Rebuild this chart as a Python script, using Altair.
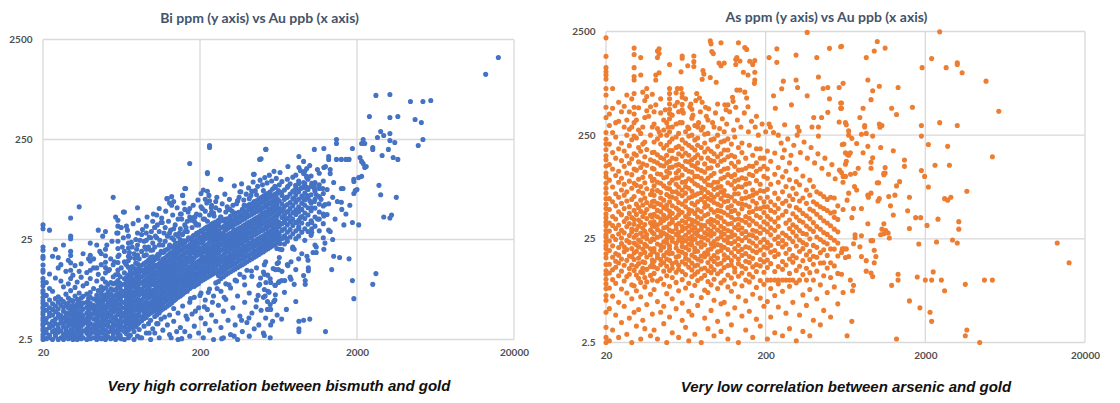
import altair as alt
import pandas as pd

AU_TICKS = [20, 200, 2000, 20000]
PPM_TICKS = [2.5, 25, 250, 2500]

TITLE_BI = "Bi ppm (y axis) vs Au ppb (x axis)"
TITLE_AS = "As ppm (y axis) vs Au ppb (x axis)"
CAPTION_BI = "Very high correlation between bismuth and gold"
CAPTION_AS = "Very low correlation between arsenic and gold"

# ---------------- Bi ppm vs Au ppb : (Au ppb, [Bi ppm ...]) ----------------
BI_LOW = [
    (20, [2.5, 2.65, 2.8, 3.05, 3.2, 3.45, 3.6, 3.9, 4.1, 4.45, 4.7, 5.1, 5.3, 5.75, 6.1, 6.6, 7.3, 7.7, 8.6, 9.4, 10.2, 11.8, 12.4, 13.9, 16.2, 17, 19.5, 21, 32, 35]),
    (21, [2.55, 2.9, 3.15, 3.7, 4.05, 4.9, 5.6, 6.9, 9.3]),
    (22, [2.6, 2.75, 3.3, 3.55, 4.3, 4.6, 5.2, 6.2, 8.1, 11.3, 31]),
    (23, [2.5, 3.0, 3.4, 3.8, 4.4, 5.0, 5.7, 7.6, 17]),
    (24, [2.7, 2.85, 3.1, 3.6, 4.0, 4.75, 5.4, 6.4, 10.3, 20]),
    (25, [2.5, 2.95, 3.25, 3.5, 4.2, 4.5, 5.05, 5.9, 6.7, 13, 16.5]),
    (26, [2.6, 3.05, 3.7, 3.95, 4.35, 5.5, 6.3, 9.6, 14]),
    (27, [2.5, 2.8, 3.35, 3.6, 4.1, 4.8, 5.25, 6.0, 8.4, 22]),
    (28, [2.7, 3.0, 3.2, 3.85, 4.25, 4.6, 5.6, 7.1, 12]),
    (29, [2.55, 2.9, 3.45, 3.75, 4.0, 4.55, 5.15, 5.8, 6.5, 9.0, 15.5]),
    (30, [2.6, 2.75, 3.1, 3.6, 3.9, 4.4, 4.95, 5.35, 6.2, 7.7, 10.2, 12.3, 14.6, 17.3, 19, 25.5, 27, 41]),
    (31, [2.5, 3.0, 3.3, 3.7, 4.15, 4.7, 5.5, 6.1, 11]),
    (32, [2.65, 2.85, 3.5, 3.8, 4.3, 4.9, 5.2, 6.8, 8.3, 13.7]),
    (33, [2.5, 3.15, 3.4, 4.0, 4.55, 5.0, 5.65, 6.3, 9.4]),
    (34, [2.7, 2.95, 3.25, 3.65, 4.2, 4.45, 5.3, 6.0, 7.3, 12, 53]),
    (35, [2.55, 2.8, 3.4, 3.85, 4.1, 4.75, 5.5, 6.5, 10.5, 14.3]),
    (36, [2.6, 3.05, 3.55, 3.9, 4.35, 5.05, 5.8, 6.75, 8.6, 18]),
    (38, [2.5, 2.9, 3.2, 3.7, 4.05, 4.6, 5.25, 5.9, 7.1, 9.1, 11.7]),
    (39, [2.75, 3.0, 3.45, 3.95, 4.4, 4.95, 5.6, 6.4, 16]),
    (40, [2.55, 2.85, 3.15, 3.6, 4.25, 4.55, 5.15, 5.75, 6.6, 7.4, 10.2, 12.3, 15.2, 17.4, 23]),
    (42, [2.6, 2.95, 3.3, 3.5, 4.0, 4.5, 5.0, 5.5, 6.35, 8.1, 13]),
    (44, [2.5, 2.8, 3.2, 3.75, 4.15, 4.8, 5.4, 6.05, 6.9, 9.6, 22]),
    (45, [2.7, 3.05, 3.45, 3.9, 4.4, 4.65, 5.25, 5.85, 6.55, 7.7, 11.2, 31]),
    (47, [2.55, 2.9, 3.35, 3.6, 4.3, 4.9, 5.6, 6.2, 7.2, 8.4, 14, 18]),
    (48, [2.6, 3.0, 3.2, 3.8, 4.05, 4.55, 5.1, 5.95, 6.8, 7.9, 10.1]),
    (50, [2.5, 2.75, 3.1, 3.5, 3.95, 4.45, 5.0, 5.45, 6.3, 7.0, 8.2, 9.4, 11.6, 13.1, 14.8, 17.2, 20, 30]),
    (52, [2.65, 2.95, 3.4, 3.7, 4.2, 4.6, 5.3, 5.9, 6.7, 7.5, 8.9, 12.2]),
    (54, [2.55, 3.05, 3.3, 3.85, 4.35, 4.9, 5.55, 6.25, 7.1, 8.05, 9.3, 16]),
    (56, [2.7, 2.9, 3.25, 3.6, 4.1, 4.7, 5.15, 5.8, 6.6, 7.8, 9.0, 10.6, 14, 66]),
    (58, [2.5, 3.0, 3.5, 3.95, 4.25, 4.85, 5.45, 6.1, 7.0, 7.9, 9.2, 11.1, 42]),
    (60, [2.6, 2.85, 3.15, 3.4, 3.8, 4.5, 5.05, 5.7, 6.45, 7.3, 8.5, 9.7, 11.2, 12.4, 14.7, 16.9, 20.3, 24, 29, 34, 39]),
    (62, [2.75, 3.1, 3.6, 3.9, 4.4, 4.95, 5.6, 6.3, 6.95, 8.1, 9.1, 10.6]),
    (63, [2.55, 3.3, 3.7, 4.2, 4.65, 5.25, 6.0, 6.75, 7.6, 8.8, 13, 33]),
]

BI_MID = [
    (66, [2.5, 3.0, 3.35, 3.8, 4.3, 4.6, 5.2, 5.85, 6.9, 7.6, 8.9, 10.1, 11.6, 15, 19, 47]),
    (68, [2.85, 3.2, 3.55, 4.05, 4.8, 5.4, 6.3, 7.1, 8.2, 9.3, 10.4, 14, 34]),
    (70, [2.6, 3.1, 3.7, 4.2, 4.5, 5.1, 5.75, 6.6, 7.4, 8.6, 9.9, 11.1, 13.2, 15.4, 17, 20.5, 23, 27]),
    (72, [2.75, 3.4, 3.9, 4.35, 4.95, 5.5, 6.2, 7.0, 7.8, 9.1, 10.5, 12.1, 16.5]),
    (74, [3.25, 3.6, 4.1, 4.6, 5.3, 5.95, 6.5, 7.5, 8.4, 9.6, 11.2, 13.4, 21]),
    (76, [2.5, 3.0, 3.5, 3.95, 4.45, 5.0, 5.7, 6.8, 7.3, 8.8, 10, 11.5, 12.9, 18]),
    (78, [3.35, 3.8, 4.25, 4.9, 5.55, 6.1, 7.15, 8.1, 9.3, 10.3, 11.9, 14.5, 25]),
    (80, [2.7, 3.55, 3.9, 4.4, 5.05, 5.8, 6.4, 7.6, 8.5, 9.8, 11, 12.7, 14.3, 17.5, 22, 29, 52]),
    (82, [3.15, 3.7, 4.3, 4.75, 5.35, 6.0, 7.0, 7.9, 8.95, 10.2, 11.7, 13.2, 16]),
    (85, [2.6, 3.85, 4.2, 4.95, 5.6, 6.25, 7.2, 8.0, 9.3, 10.6, 12.2, 13.8, 19, 28]),
    (88, [3.4, 4.05, 4.55, 5.2, 5.7, 6.6, 7.4, 8.6, 9.6, 11.1, 12.4, 14.4, 17.2, 24]),
    (91, [2.9, 4.15, 4.8, 5.35, 6.0, 6.85, 7.8, 8.75, 10.1, 11.5, 13.1, 14.9, 17.6, 20, 24.5, 29, 34]),
    (94, [3.6, 4.45, 5.05, 5.55, 6.5, 7.25, 8.1, 9.4, 10.5, 12.1, 13.6, 15.6, 21]),
    (97, [2.5, 3.9, 4.6, 5.25, 5.85, 6.8, 7.55, 8.7, 9.9, 11.1, 12.8, 14.4, 16.6, 19.5, 26]),
    (100, [3.2, 4.75, 5.45, 6.05, 7.0, 7.75, 9.0, 10, 11.6, 13, 15, 16.8, 19.6, 23, 38]),
    (103, [2.9, 4.25, 4.85, 5.5, 6.15, 6.85, 7.9, 8.8, 10.2, 11.4, 13.2, 15.8, 21, 33]),
    (106, [3.6, 4.4, 5.0, 5.65, 6.45, 7.15, 8.3, 9.2, 10.7, 11.9, 13.8, 17, 26, 44]),
    (110, [2.6, 4.6, 5.25, 5.85, 6.75, 7.6, 8.65, 9.75, 11.2, 12.5, 14.4, 17.5, 22, 30, 51]),
    (113, [4.0, 4.9, 5.4, 6.2, 6.9, 7.9, 8.8, 10.1, 11.6, 13.1, 14.9, 19, 37]),
    (116, [3.1, 5.05, 5.7, 6.45, 7.35, 8.25, 9.5, 10.6, 12.3, 13.8, 15.9, 18.5, 22]),
    (120, [5.2, 5.95, 6.65, 7.65, 8.5, 9.9, 11, 12.7, 14.2, 16.4, 19.5, 24, 33]),
    (124, [3.5, 5.4, 6.15, 6.9, 7.85, 8.95, 10.1, 11.6, 13, 15, 17.1, 20, 27, 64]),
    (128, [2.8, 4.4, 5.6, 6.35, 7.25, 8.2, 9.35, 10.5, 12.1, 13.6, 15.7, 17.9, 22, 29, 58]),
    (132, [5.8, 6.65, 7.45, 8.6, 9.65, 11.1, 12.4, 14.3, 16.1, 18.5, 21, 26, 55, 67]),
    (136, [3.8, 5.1, 6.1, 6.95, 7.8, 8.9, 10.2, 11.4, 13.2, 14.8, 17.1, 19.2, 25, 32, 60]),
    (140, [6.3, 7.15, 8.25, 9.3, 10.7, 12, 13.8, 15.5, 17.8, 20.1, 23, 28]),
    (145, [2.5, 4.6, 6.6, 7.55, 8.45, 9.75, 10.9, 12.6, 14.1, 16.3, 18.3, 21, 27, 40]),
    (150, [3.3, 6.8, 7.75, 8.95, 10, 11.6, 13, 15, 16.9, 19.4, 22, 25, 32, 45]),
    (155, [5.4, 7.1, 8.15, 9.15, 10.6, 11.8, 13.7, 15.3, 17.6, 19.8, 22.8, 28, 69]),
    (160, [3.0, 7.4, 8.35, 9.65, 10.8, 12.5, 14, 16.1, 18.1, 20.9, 23.4, 30, 35, 50, 81]),
]

BI_HIGH = [
    (166, [4.0, 7.6, 8.9, 9.8, 11.4, 12.6, 14.8, 16.4, 19.1, 21.3, 24.6, 30, 38]),
    (172, [2.7, 5.9, 8.1, 9.2, 10.2, 11.9, 13.2, 15.2, 17.0, 19.8, 22.1, 25.5, 42, 51, 144]),
    (178, [4.5, 8.4, 9.3, 10.9, 12.1, 14.1, 15.6, 18.2, 20.3, 23.5, 26.2, 33]),
    (184, [3.4, 6.6, 8.5, 9.9, 11.0, 12.8, 14.2, 16.5, 18.4, 21.3, 23.7, 27.5, 38, 42]),
    (190, [8.8, 10.3, 11.4, 13.3, 14.7, 17.2, 19.1, 22.3, 24.8, 28.8, 35, 45]),
    (196, [2.9, 5.2, 9.1, 10.6, 11.8, 13.7, 15.2, 17.8, 19.7, 22.9, 25.5, 29.5, 35]),
    (203, [4.1, 7.3, 9.6, 10.9, 12.2, 14.2, 15.8, 18.3, 20.4, 23.7, 26.4, 30.5, 53, 72]),
    (210, [2.6, 9.9, 11.2, 12.5, 14.5, 16.1, 18.7, 20.8, 24.2, 27.0, 31.4, 40, 78]),
    (216, [3.6, 6.2, 10.2, 11.6, 13.0, 15.1, 16.8, 19.5, 21.8, 25.3, 28.1, 32.5, 48, 63]),
    (223, [5.0, 10.5, 11.9, 13.5, 15.5, 17.2, 20.0, 22.3, 25.9, 28.7, 33.4, 38, 76, 114, 117]),
    (230, [3.1, 8.0, 10.8, 12.3, 14.1, 15.7, 18.2, 20.2, 23.5, 26.1, 30.4, 34.1, 44, 61, 208, 218]),
    (237, [4.4, 11.1, 12.6, 14.4, 16.1, 18.6, 21.2, 24.1, 26.8, 31.1, 35.6, 47, 55]),
    (244, [2.5, 6.8, 11.4, 12.9, 14.8, 16.5, 19.1, 21.7, 24.7, 27.5, 31.9, 36.5, 46]),
    (252, [3.8, 9.2, 11.7, 13.3, 15.2, 17.0, 19.6, 22.2, 25.3, 28.2, 32.8, 37.4, 52, 60]),
    (262, [5.5, 9.5, 10.9, 12.2, 14.1, 15.8, 18.3, 20.8, 23.7, 26.4, 30.6, 34.5, 39]),
    (272, [3.3, 7.6, 10.2, 11.6, 13.0, 15.0, 16.9, 19.5, 22.2, 25.2, 28.1, 32.6, 42, 100]),
    (282, [2.6, 4.8, 10.6, 12.0, 13.5, 15.6, 17.4, 20.1, 22.9, 25.9, 29.0, 33.6, 38.4]),
    (292, [6.3, 9.0, 11.1, 12.6, 14.4, 16.1, 18.6, 21.2, 24.1, 26.9, 31.1, 35.3, 40, 47]),
    (302, [3.9, 11.5, 13.1, 14.9, 16.7, 19.3, 21.9, 24.9, 27.8, 32.3, 36.6, 50]),
    (313, [2.8, 8.2, 11.9, 13.5, 15.4, 17.3, 20.0, 22.7, 25.8, 28.8, 33.4, 37.9, 43]),
    (324, [5.2, 12.3, 14.0, 15.9, 17.8, 20.6, 23.4, 26.6, 29.7, 34.5, 39.1, 55]),
    (335, [3.5, 9.8, 12.7, 14.4, 16.4, 18.4, 21.2, 24.1, 27.4, 30.6, 35.5, 40.3, 46]),
    (347, [2.5, 6.8, 13.1, 14.9, 16.9, 18.9, 21.9, 24.9, 28.3, 31.6, 36.6, 41.6, 61]),
    (359, [4.3, 11.2, 13.6, 15.4, 17.5, 19.6, 22.7, 25.8, 29.3, 32.7, 37.9, 43.0, 75]),
    (372, [3.0, 14.0, 15.9, 18.0, 20.2, 23.4, 26.6, 30.2, 33.7, 39.1, 44.3, 50]),
    (385, [5.9, 8.8, 14.5, 16.5, 18.7, 20.9, 24.2, 27.5, 31.2, 34.8, 40.4, 45.9, 55]),
    (398, [3.7, 12.3, 15.0, 17.1, 19.4, 21.7, 25.1, 28.5, 32.4, 36.1, 41.9, 47.6]),
    (412, [2.7, 7.3, 15.5, 17.6, 20.0, 22.4, 25.9, 29.4, 33.4, 37.3, 43.2, 49.1, 56, 64]),
    (428, [4.6, 10.7, 16.0, 18.2, 20.7, 23.1, 26.8, 30.4, 34.5, 38.5, 44.6, 50.7, 57, 76]),
    (443, [3.2, 16.6, 18.9, 21.5, 24.0, 27.7, 31.5, 35.7, 39.9, 46.2, 52.5, 60, 112]),
    (458, [6.2, 13.0, 17.1, 19.4, 22.1, 24.7, 28.6, 32.5, 36.9, 41.2, 47.7, 54.2, 61, 70]),
    (474, [3.5, 8.7, 17.7, 20.1, 22.8, 25.5, 29.5, 33.5, 38.1, 42.5, 49.2, 55.9, 63.5]),
    (490, [4.9, 18.3, 20.8, 23.6, 26.4, 30.6, 34.7, 39.4, 44.0, 50.9, 57.9, 65.6, 160]),
    (507, [2.9, 6.6, 11.8, 18.9, 21.5, 24.4, 27.2, 31.5, 35.8, 40.7, 45.4, 52.6, 59.8, 67.9, 77]),
    (524, [4.1, 15.0, 19.6, 22.3, 25.3, 28.2, 32.6, 37.1, 42.2, 47.1, 54.5, 61.9, 70, 200]),
    (542, [7.6, 20.2, 23.0, 26.1, 29.2, 33.8, 38.4, 43.6, 48.7, 56.4, 64.1, 72.6]),
    (560, [2.6, 5.6, 10.1, 20.9, 23.8, 27.0, 30.2, 34.9, 39.7, 45.1, 50.3, 58.3, 66.2, 75]),
    (580, [3.8, 21.6, 24.5, 27.9, 31.2, 36.1, 41.0, 46.6, 52.1, 60.3, 68.4, 80]),
    (600, [6.2, 8.7, 22.3, 25.4, 28.8, 32.2, 37.3, 42.3, 48.1, 53.8, 62.2, 70.6, 85]),
    (620, [4.4, 14.4, 23.1, 26.2, 29.8, 33.3, 38.5, 43.8, 49.7, 55.6, 64.3, 72.9]),
    (640, [9.5, 16.5, 24.5, 28.0, 33.5, 37.0, 45.5, 50.5, 61, 74, 88]),
    (665, [12.0, 19.8, 25.6, 30.8, 36.0, 41.5, 48.0, 57, 69, 95]),
    (690, [7.4, 22.5, 27.2, 32.0, 39.5, 44.0, 53.5, 63, 78]),
    (720, [14.0, 24.0, 29.5, 35.0, 40.5, 47.5, 56, 66, 83, 100]),
    (750, [10.5, 26.5, 31.5, 37.5, 43.0, 51.0, 58.5, 71, 90]),
    (780, [21.0, 28.5, 34.5, 40.0, 46.5, 54.5, 64, 76, 105]),
    (815, [12.5, 25.5, 30.5, 37.0, 44.5, 49.5, 59, 70, 86, 110]),
    (850, [27.0, 33.5, 39.0, 47.0, 53.0, 63, 75, 96]),
    (890, [18.0, 29.5, 36.5, 42.5, 50.0, 57.5, 68, 82]),
    (930, [24.5, 32.0, 40.5, 46.0, 55.0, 62, 73, 91, 120]),
    (975, [15.5, 30.0, 35.5, 44.0, 52.0, 66, 79, 100]),
    (1020, [27.5, 38.5, 48.5, 58.0, 70, 85, 108]),
    (1080, [22.0, 34.0, 42.0, 51.5, 63, 76, 93]),
    (1150, [30.5, 40.0, 47.0, 56.5, 67, 88, 115]),
    (1220, [26.0, 36.0, 45.0, 54.0, 72, 96]),
]

BI_BAND_EXTRA = [
    (101, [5.2, 6.6, 7.3, 9.4, 10.6, 12.3, 14.1, 15.5]),
    (108, [5.5, 6.2, 8.0, 9.0, 11.4, 13.5, 16.2, 17.8]),
    (118, [6.0, 7.0, 8.0, 9.3, 10.3, 12.0, 15.0, 18.9]),
    (126, [6.5, 7.9, 8.6, 10.9, 12.8, 14.5, 17.5, 20.3]),
    (138, [7.0, 7.5, 9.8, 11.0, 12.9, 16.0, 18.1, 22.0]),
    (148, [7.4, 8.9, 10.5, 11.3, 13.6, 15.7, 19.9, 23.5]),
    (158, [8.0, 9.0, 10.2, 12.0, 14.6, 17.1, 21.4, 24.2]),
    (169, [8.5, 10.4, 11.0, 13.3, 15.6, 18.5, 20.0, 26.0]),
    (181, [9.0, 10.0, 12.2, 13.7, 16.1, 19.4, 22.6, 27.2]),
    (193, [9.5, 10.9, 12.6, 14.5, 18.2, 21.0, 24.3, 28.0]),
    (206, [10.1, 11.6, 13.2, 15.2, 17.0, 19.5, 22.9, 29.8]),
    (220, [10.6, 12.5, 14.1, 16.3, 18.9, 21.1, 26.3, 31.7]),
    (234, [11.2, 13.0, 14.8, 17.1, 19.3, 23.9, 28.4, 33.6]),
    (248, [11.8, 13.9, 15.7, 18.0, 20.6, 23.0, 30.1, 35.5]),
    (266, [12.4, 14.5, 16.5, 19.0, 22.0, 24.8, 29.3, 37.6]),
    (287, [13.1, 15.1, 18.0, 20.5, 23.4, 27.1, 32.0, 39.5]),
    (307, [13.9, 16.0, 18.5, 21.4, 24.0, 28.3, 34.9, 41.0]),
    (330, [14.6, 17.0, 19.4, 22.0, 25.6, 31.3, 36.8, 44.2]),
    (353, [15.4, 18.2, 20.5, 23.7, 27.0, 32.0, 39.3, 46.8]),
    (378, [16.3, 18.8, 21.6, 25.0, 28.9, 34.0, 41.2, 49.9]),
    (405, [17.2, 19.9, 23.3, 26.2, 30.9, 35.2, 43.5, 52.8]),
    (435, [18.0, 21.0, 24.3, 28.0, 31.9, 37.7, 46.1, 55.5]),
    (465, [19.0, 21.9, 25.3, 29.9, 34.0, 40.3, 48.3, 58.6]),
    (500, [20.0, 23.2, 26.6, 31.0, 36.3, 42.0, 51.5, 61.5]),
    (532, [21.0, 24.6, 27.9, 33.0, 37.6, 44.4, 53.6, 64.4]),
    (570, [22.0, 25.8, 29.5, 34.2, 40.0, 46.0, 56.9, 67.5]),
    (610, [23.0, 27.1, 31.0, 36.4, 41.5, 48.9, 59.1, 70.4]),
]

BI_SCATTER_UPPER = [
    (13200, 1120), (15900, 1650), (2640, 690), (3240, 705), (4380, 600), (5260, 600), (5900, 614),
    (2400, 425), (3240, 415), (3640, 425), (4690, 396), (5140, 370),
    (2830, 300), (2960, 274), (2700, 262), (3240, 287), (3240, 244), (3480, 233), (5260, 250), (4910, 218),
    (1480, 250), (1480, 228), (2190, 250), (2140, 228), (2240, 228), (2520, 208), (2520, 199), (1870, 203),
    (1230, 203), (1070, 199), (526, 199), (480, 158), (853, 169), (914, 151), (1320, 169), (1320, 158),
    (1480, 158), (1590, 158), (1700, 158), (1780, 158), (2090, 165), (2140, 151), (2190, 144), (2240, 131),
    (2290, 134), (2890, 173), (3170, 199), (3400, 165), (3640, 158), (726, 134), (647, 117), (853, 131),
    (873, 122), (957, 128), (1000, 137), (957, 104), (914, 114), (957, 107), (1120, 125), (1230, 131),
    (1260, 134), (1350, 125), (1350, 114), (1420, 93), (1590, 81), (1910, 100), (1910, 95), (2050, 104),
    (2140, 107), (2760, 87), (604, 83), (726, 85), (815, 87), (853, 91), (914, 93), (815, 81), (914, 83),
    (957, 83), (1030, 91), (1070, 85), (1150, 81), (1290, 79), (1630, 81), (2000, 79), (438, 112),
    (1910, 72), (1950, 77), (1590, 59), (2830, 70), (3560, 66), (2960, 42), (3240, 41), (3320, 44),
    (1870, 37), (2050, 35), (1320, 31), (1230, 43), (1030, 32), (1120, 40), (1030, 37),
    (162, 81), (364, 75), (430, 76), (270, 100), (123, 64), (155, 69), (348, 61), (65, 47), (152, 45),
    (186, 42), (270, 42), (310, 50), (382, 55), (103, 33), (115, 37), (460, 50), (500, 46),
]

BI_SCATTER_BAND = [
    (796, 64), (853, 49), (1030, 52), (957, 69), (1000, 61), (1070, 60), (1180, 63), (1210, 81), (1320, 57),
    (1070, 81), (957, 81), (873, 81), (796, 77), (914, 64), (710, 66), (662, 74), (632, 77), (647, 51),
    (590, 51), (678, 49), (726, 47), (873, 41.5), (834, 37), (760, 38), (693, 37), (618, 34.5), (564, 35),
    (853, 32), (1030, 29.4), (778, 20.3), (1290, 44.5), (1350, 30), (538, 27.4), (577, 29.4), (632, 28.7),
    (662, 25.6), (710, 25.6), (647, 22.8), (618, 20.3), (502, 19.4), (458, 23.3), (480, 24.4), (526, 32),
    (480, 34.5), (1250, 56), (1100, 70), (1400, 66), (1500, 60), (1450, 40), (1600, 50), (1700, 45),
    (1800, 55), (1650, 35), (1400, 25), (1250, 23), (1100, 21), (960, 17), (850, 16), (760, 15),
]

BI_FUZZ = [
    (42, 16), (44, 13), (46, 19), (48, 27), (51, 22), (53, 12.5), (55, 24), (57, 15), (59, 29), (61, 17.5),
    (64, 21), (65, 26), (67, 14.5), (69, 31), (71, 18.5), (73, 23.5), (75, 36), (77, 16.2), (79, 20), (81, 39),
    (83, 24.5), (86, 31.5), (89, 21), (92, 42), (95, 26.5), (98, 30), (101, 45), (104, 27), (107, 35),
    (111, 24.5), (114, 41), (118, 29), (121, 48), (126, 38), (130, 31), (134, 44), (139, 35), (143, 52),
    (148, 29), (153, 40), (158, 58), (163, 33), (168, 47), (175, 39), (181, 55), (188, 36), (194, 62),
    (200, 44), (207, 51), (214, 40), (221, 58), (228, 69), (236, 52), (246, 43), (256, 66), (266, 49),
    (277, 57), (288, 71), (298, 53), (308, 63), (320, 48), (331, 86), (342, 57), (355, 66), (368, 90),
    (380, 62), (394, 71), (408, 82), (422, 69), (436, 94), (450, 77), (466, 85), (483, 98), (500, 88),
    (517, 104), (535, 92), (553, 110), (572, 96), (592, 120), (612, 102),
    (83, 2.6), (95, 2.9), (108, 3.6), (119, 4.2), (131, 2.6), (142, 3.0), (153, 2.55), (163, 4.3),
    (174, 6.4), (187, 4.8), (200, 6.9), (213, 5.3), (226, 7.4), (240, 5.9), (257, 8.1), (275, 2.55),
    (285, 6.6), (306, 8.8), (330, 2.7), (342, 9.6), (368, 3.9), (382, 10.5), (410, 4.1), (425, 12.1),
    (455, 5.3), (486, 10.3), (520, 6.8), (540, 11.0), (585, 12.8),
]

BI_SCATTER_LOWER = [
    (1230, 20), (1420, 17), (1550, 16.5), (1780, 16), (1050, 18.5), (1100, 18.5), (796, 20), (647, 20),
    (726, 13.7), (632, 14.7), (514, 14), (514, 11.2), (604, 12.5), (632, 12.5), (980, 13), (980, 12.2),
    (1380, 12.5), (2640, 11.4), (2520, 8.9), (1870, 9.7), (1910, 6.4), (914, 10.9), (936, 9.7), (936, 8.9),
    (760, 10), (796, 8.9), (480, 8.9), (526, 9.3), (564, 9.3), (604, 8.7), (632, 9.3), (662, 9.7), (693, 9.7),
    (514, 7.9), (551, 7.4), (604, 7.0), (469, 6.9), (538, 6.0), (590, 6.0), (815, 6.0), (710, 5.0), (538, 5.0),
    (564, 5.0), (564, 3.5), (662, 4.0), (853, 3.8), (914, 3.9), (1000, 4.0), (853, 3.0), (853, 3.2),
    (1260, 3.0), (514, 2.74),
]

# ---------------- As ppm vs Au ppb : (Au ppb, [As ppm ...]) ----------------
AS_LOW = [
    (20, [2.5, 2.8, 3.5, 4.9, 6.4, 7.1, 8.3, 9.2, 10.2, 11.4, 12.3, 14.1, 16.4, 17.9, 20.2, 21.5, 23.6, 25.9, 27.4, 30.1, 33.5, 36.2, 39.8, 43.5, 49, 54, 61, 69, 77, 86, 99, 108, 126, 145, 158, 182, 205, 228, 265, 370, 465, 610, 705, 870, 950, 1020, 1120, 1440, 2170]),
    (21, [2.6, 5.3, 8.4, 11.7, 14.2, 19.3, 23.8, 29.7, 35.5, 48, 61, 92, 130, 205, 310]),
    (22, [3.3, 7.0, 10.1, 12.6, 16.6, 21.4, 26.5, 33.6, 41, 57, 79, 118, 170, 265, 455, 705]),
    (23, [4.6, 9.3, 13.3, 15.2, 18.0, 24.6, 31.4, 38.8, 52, 68, 102, 150, 240]),
    (24, [2.8, 6.1, 11.0, 14.6, 17.4, 20.6, 27.8, 34.0, 45.6, 63, 88, 112, 185, 340]),
    (25, [3.9, 8.2, 12.2, 16.0, 22.5, 25.4, 30.2, 42.8, 55, 74, 96, 142, 210, 420]),
    (26, [5.6, 9.8, 13.9, 18.8, 21.0, 28.6, 36.7, 49, 66, 84, 125, 176, 475]),
    (27, [3.0, 7.5, 10.8, 15.5, 19.7, 24.0, 32.8, 39.5, 58, 71, 108, 158, 250, 350]),
    (28, [4.3, 11.4, 12.9, 17.1, 23.1, 26.9, 35.2, 44, 51, 90, 134, 198, 285]),
    (29, [2.5, 6.6, 9.0, 14.0, 16.9, 20.2, 29.1, 31.0, 40, 60, 77, 104, 148, 226, 300]),
    (30, [4.9, 8.8, 12.4, 15.8, 18.3, 22.8, 25.9, 34.6, 38.4, 47, 64, 86, 118, 165, 245, 330, 400, 465, 630, 850, 920, 1120, 1500, 1730]),
    (31, [3.6, 7.9, 11.2, 13.6, 19.0, 21.9, 27.2, 30.6, 43, 54, 82, 115, 160, 235]),
    (32, [5.2, 10.4, 14.4, 16.3, 20.9, 24.3, 33.1, 37.9, 50, 72, 94, 138, 190, 280]),
    (33, [2.7, 6.9, 9.5, 12.0, 17.8, 23.4, 28.3, 36.0, 46, 59, 80, 122, 175, 260, 950, 1400]),
    (34, [4.1, 11.8, 13.0, 15.0, 19.9, 26.2, 31.7, 41, 53, 69, 98, 132, 205, 650]),
    (35, [3.4, 8.6, 10.6, 14.8, 18.5, 22.1, 29.6, 34.4, 44.6, 62, 87, 110, 155, 215, 370]),
    (36, [5.8, 9.6, 12.7, 16.7, 21.2, 25.1, 27.5, 39.2, 48, 56, 76, 128, 182, 430, 590, 705]),
    (38, [2.9, 7.3, 11.1, 13.5, 17.6, 20.0, 23.6, 30.4, 35.8, 42.3, 52, 67, 100, 145, 250]),
    (39, [4.7, 10.0, 14.3, 15.6, 19.4, 24.9, 28.9, 33.4, 40.7, 57, 73, 91, 120, 170, 300]),
]

AS_MID = [
    (40, [3.3, 8.1, 11.6, 13.4, 15.2, 18.8, 20.1, 24.6, 27.9, 33, 36.5, 43, 51, 58, 66, 81, 94, 118, 140, 171, 215, 320]),
    (42, [2.7, 6.2, 9.8, 12.9, 16.4, 17.6, 22.3, 25.9, 30.7, 34.2, 40.8, 47, 55, 73, 88, 106, 135, 162, 230, 290]),
    (44, [4.9, 10.3, 14.1, 15.8, 19.4, 21.6, 26.8, 29.3, 35.6, 38.9, 45.5, 53.5, 62, 70, 86, 105, 128, 152, 205, 250, 410]),
    (46, [3.8, 5.6, 9.1, 12.2, 14.7, 17.3, 20.8, 23.4, 28.2, 31.9, 37.7, 42.1, 50, 59, 81, 97, 126, 148, 188, 280]),
    (48, [2.5, 7.4, 11.0, 13.6, 16.0, 18.4, 22.9, 24.9, 27.3, 32.4, 39.6, 48.5, 53, 67, 77, 99, 112, 135, 160, 200, 250, 330]),
    (50, [4.4, 8.7, 12.4, 15.5, 17.9, 19.9, 21.4, 26.1, 30.2, 34.9, 41.5, 46, 57, 64, 76, 86, 108, 122, 140, 178, 215, 270, 360]),
    (52, [3.1, 6.6, 10.6, 13.0, 14.4, 18.1, 23.7, 25.3, 29.5, 36.2, 38.4, 44.2, 52, 63, 71, 92, 123, 150, 178, 230, 300]),
    (55, [5.3, 9.5, 11.9, 14.9, 16.7, 20.4, 22.6, 27.6, 31.3, 33.8, 40.2, 49.6, 61, 71, 84, 96, 108, 128, 147, 190, 240, 320]),
    (57, [2.8, 7.9, 12.7, 13.9, 17.0, 19.1, 24.2, 26.5, 28.8, 35.1, 42.7, 47.3, 56, 68, 79, 97, 114, 130, 165, 195, 260, 420]),
    (60, [4.1, 6.0, 10.1, 12.1, 15.0, 18.6, 21.1, 23.0, 25.6, 30.0, 32.9, 37.3, 45.0, 54, 65, 74, 88, 103, 125, 157, 185, 225, 330]),
    (63, [3.5, 8.4, 11.3, 14.3, 16.2, 17.7, 20.6, 24.0, 27.1, 31.6, 36.0, 41.1, 51, 58, 69, 80, 89, 117, 140, 168, 210, 270]),
    (66, [2.6, 5.0, 9.3, 13.3, 15.6, 19.6, 22.2, 25.1, 29.0, 33.3, 39.1, 43.6, 48, 62, 77, 95, 112, 138, 160, 200, 245, 290]),
    (69, [4.6, 7.1, 10.8, 12.5, 14.6, 17.4, 21.8, 23.9, 26.3, 30.5, 34.5, 38.0, 46.6, 55, 64, 72, 91, 110, 128, 145, 190, 250, 365]),
    (72, [3.0, 8.9, 11.4, 13.7, 16.6, 18.9, 20.3, 24.8, 28.4, 32.1, 37.0, 44.0, 53, 66, 85, 100, 125, 152, 180, 225, 310]),
    (75, [5.7, 9.9, 12.0, 14.0, 15.9, 19.0, 22.7, 27.0, 29.9, 35.4, 40.6, 47.8, 57, 68, 82, 100, 118, 135, 162, 200, 235, 300]),
    (79, [2.5, 6.8, 10.4, 12.8, 15.3, 17.1, 20.9, 23.3, 26.0, 31.0, 34.0, 39.0, 45.8, 60, 70, 78, 96, 114, 150, 190, 280]),
    (83, [4.3, 8.0, 11.1, 13.1, 16.8, 18.2, 21.9, 25.5, 28.6, 33.5, 41.9, 50.5, 56, 64, 75, 90, 110, 132, 172, 210, 255]),
    (87, [3.4, 7.6, 9.7, 12.3, 14.8, 17.8, 19.5, 24.4, 27.5, 30.9, 36.8, 43.3, 52, 61, 70, 83, 96, 120, 150, 185, 260, 350]),
    (91, [5.1, 9.0, 11.8, 13.5, 16.1, 20.0, 22.4, 26.7, 29.7, 34.6, 38.6, 48.0, 59, 67, 82, 102, 121, 142, 175, 225]),
    (95, [2.9, 6.4, 10.2, 12.6, 15.1, 17.2, 21.2, 23.6, 28.0, 32.6, 37.5, 45.2, 56, 63, 75, 88, 107, 140, 165, 230, 300]),
    (100, [4.0, 8.3, 11.5, 14.2, 16.3, 18.7, 22.0, 25.0, 30.4, 35.9, 41.3, 47, 54, 67, 78, 88, 128, 155, 195, 250]),
    (105, [3.2, 5.9, 9.4, 12.2, 14.5, 19.3, 21.5, 26.2, 28.9, 33.1, 39.8, 46.2, 52, 61, 71, 80, 95, 112, 140, 165, 215]),
    (110, [6.1, 10.0, 13.2, 15.7, 17.5, 20.7, 24.3, 27.8, 31.5, 36.7, 44.6, 57, 66, 73, 98, 118, 145, 180, 220, 270]),
    (116, [2.7, 4.7, 8.6, 11.2, 13.8, 16.5, 19.7, 23.1, 25.8, 30.1, 34.8, 42.4, 50, 58, 65, 87, 104, 120, 155, 180, 230]),
    (122, [3.7, 7.8, 10.5, 14.0, 15.4, 18.3, 22.5, 26.4, 29.2, 35.2, 40.4, 46, 52, 63, 83, 100, 134, 160, 205]),
    (128, [5.4, 9.2, 12.0, 13.0, 17.0, 20.2, 23.5, 27.2, 32.2, 38.2, 47, 58, 68, 76, 90, 104, 125, 155, 240]),
    (135, [2.5, 6.9, 10.9, 14.4, 16.0, 18.9, 21.7, 25.2, 30.6, 34.3, 39, 43.7, 55, 68, 80, 93, 115, 138, 190]),
    (142, [4.5, 8.8, 11.7, 13.6, 17.3, 19.8, 24.1, 28.1, 31.8, 37.8, 48.7, 54, 61, 79, 97, 116, 170, 210]),
    (150, [3.3, 6.3, 10.0, 12.9, 15.2, 18.0, 21.0, 25.7, 29.4, 36.1, 41.0, 53, 62, 71, 84, 95, 120, 150]),
    (158, [5.0, 9.6, 11.4, 14.8, 16.9, 20.5, 23.8, 27.4, 33.9, 39.4, 45, 51, 64, 86, 105, 126, 200]),
    (166, [2.8, 7.3, 10.7, 13.4, 16.2, 19.2, 22.8, 26.9, 30.3, 37.2, 45.9, 58, 66, 74, 102, 125, 160]),
    (175, [4.2, 8.5, 12.1, 14.1, 18.5, 21.3, 25.4, 29.6, 35.0, 42.0, 49, 55, 69, 91, 112, 135, 185]),
    (185, [3.6, 6.7, 9.9, 13.7, 15.8, 19.5, 23.2, 28.3, 32.7, 40.1, 49, 62, 73, 84, 118, 150, 185]),
    (195, [5.6, 9.1, 11.9, 15.0, 17.6, 20.9, 24.7, 30.8, 36.4, 44.8, 51, 57, 72, 100, 125, 150]),
]

AS_HIGH = [
    (205, [2.7, 6.2, 10, 13.2, 15.6, 20.4, 23.1, 29.3, 34.8, 41.2, 51, 63, 75, 96, 118, 176]),
    (215, [4.4, 8.3, 10, 14.4, 18.6, 21.7, 27.3, 31.9, 38.7, 47, 57, 84, 140]),
    (228, [3.1, 7.1, 10, 12.1, 16.9, 19.3, 24.8, 30.2, 36.4, 45.1, 53, 69, 105, 168]),
    (240, [5.5, 9.2, 10, 13.5, 17.8, 22.6, 26.1, 33.0, 39.8, 49, 61, 88, 122]),
    (255, [2.9, 7.8, 10, 12.7, 15.1, 20.9, 24.0, 28.5, 42.5, 55, 71, 99, 152]),
    (268, [4.8, 10, 14.0, 18.1, 22.2, 27.0, 35.4, 46.0, 58, 80, 112]),
    (282, [3.4, 8.7, 10, 11.6, 16.0, 19.8, 25.3, 31.5, 38.0, 52, 65, 93, 135]),
    (296, [6.1, 10, 14.9, 17.2, 23.5, 29.0, 34.1, 43.7, 60, 77]),
    (311, [2.6, 9.4, 12.4, 16.4, 21.3, 26.6, 32.4, 40.5, 50, 68, 89, 118]),
    (326, [4.6, 10, 13.6, 18.9, 24.4, 30.0, 37.6, 47.5, 58, 83]),
    (342, [3.2, 7.2, 11.3, 15.4, 20.1, 23.0, 28.2, 36.1, 44.0, 62, 101]),
    (360, [5.7, 10, 13.0, 17.5, 22.0, 27.7, 33.3, 41.8, 55, 74]),
    (378, [2.9, 8.1, 11.8, 15.8, 19.0, 25.0, 31.2, 39.0, 48.4, 66, 92]),
    (398, [4.1, 10, 14.2, 17.0, 21.6, 29.5, 35.8, 46.4, 57, 80]),
    (418, [6.6, 12.2, 16.6, 20.7, 26.0, 32.9, 43.1, 54, 71]),
    (440, [3.7, 9.0, 14.6, 18.4, 24.6, 30.9, 40.2, 51, 68]),
    (462, [5.1, 11.0, 14.7, 19.6, 23.3, 28.7, 37.3, 49, 64]),
    (486, [7.6, 13.1, 17.3, 22.4, 27.6, 35.5, 46.9, 60]),
    (510, [4.4, 10.6, 14.7, 20.0, 25.7, 33.4, 44.4, 63]),
    (538, [8.6, 13.7, 19.9, 24.2, 31.0, 40.3, 45.4, 62]),
    (566, [5.9, 11.6, 17.1, 22.8, 29.2, 38.5, 52]),
]

AS_TOP = [
    (41, 950), (41, 850), (41, 490), (42, 1620), (42, 1400), (43, 1700), (43, 1530), (43, 1000),
    (50, 1200), (50, 705), (50, 630), (50, 560), (50, 500), (50, 445), (50, 405),
    (56, 705), (56, 520), (59, 705), (59, 1020), (60, 1450), (60, 1380), (60, 630), (60, 580), (60, 495), (60, 440),
    (65, 1170), (68, 500), (69, 445), (71, 1450), (71, 1280), (71, 1150),
    (74, 630), (77, 570), (80, 520), (80, 865), (81, 1050), (82, 970), (84, 465),
    (90, 2030), (90, 900), (91, 1900), (92, 1600), (94, 1530), (98, 810),
    (100, 500), (102, 1240), (105, 1170), (105, 1950), (110, 1240), (111, 490), (113, 440), (116, 490),
    (124, 580), (125, 530), (130, 465), (130, 1340), (130, 1200), (132, 1400), (132, 680), (135, 1950),
    (138, 1300), (138, 680), (145, 1010), (148, 1750), (148, 650), (152, 1680), (152, 570), (155, 470),
    (155, 950), (159, 1290), (166, 1200), (170, 790), (171, 1310), (171, 1010), (171, 850), (175, 380),
    (210, 1400), (235, 1700), (235, 1260), (310, 1480), (364, 2450), (418, 1400), (502, 1720), (590, 1780),
    (428, 910), (258, 830), (252, 700), (224, 600), (310, 850), (317, 720), (364, 600), (458, 705),
    (490, 720), (577, 720), (502, 560), (590, 510), (590, 455), (230, 455), (290, 490), (400, 370),
    (448, 370), (490, 415), (577, 335), (390, 300), (428, 300), (428, 245), (263, 315), (317, 300),
    (324, 275), (210, 320), (214, 300), (224, 265),
]

AS_UPPER_FUZZ = [
    (21, 400), (23, 330), (24, 520), (26, 300), (27, 610), (28, 420), (29, 560), (31, 350), (32, 460),
    (34, 300), (35, 540), (37, 380), (38, 470), (39, 620), (40, 420), (43, 270), (44, 560), (46, 350),
    (47, 440), (49, 300), (52, 390), (54, 480), (55, 640), (58, 330), (61, 410), (63, 560), (65, 300),
    (67, 470), (70, 390), (73, 540), (76, 330), (78, 420), (81, 300), (85, 380), (88, 450), (93, 330),
    (97, 410), (103, 290), (107, 360), (114, 320), (119, 420), (126, 280), (133, 350), (140, 300),
    (147, 410), (156, 270), (163, 340), (172, 300), (180, 250), (190, 320), (200, 270),
    (240, 250), (250, 210), (262, 180), (275, 230), (288, 160), (300, 200), (315, 250), (330, 170),
    (348, 215), (365, 150), (385, 190), (405, 135), (425, 165), (450, 120), (470, 150), (495, 105),
    (520, 130), (545, 95), (580, 115), (610, 88), (640, 140), (680, 105), (720, 80), (760, 120),
]

AS_FAR = [
    (597, 1800), (1000, 2000), (957, 1620), (1120, 1730), (853, 1400), (2460, 2480), (2190, 1370),
    (1910, 1120), (2700, 1120), (3170, 1250), (3170, 1200), (3400, 1000), (4800, 830), (5770, 425),
    (611, 790), (873, 850), (936, 670), (1030, 740), (1350, 720), (914, 550), (815, 455), (1230, 455),
    (1320, 396), (1660, 465), (597, 510), (597, 455), (778, 370), (632, 330), (640, 315), (834, 310),
    (834, 300), (1030, 320), (1070, 310), (1040, 298), (662, 275), (662, 250), (796, 255), (853, 260),
    (693, 233), (936, 245), (1890, 310), (1890, 245), (2460, 330), (3170, 310), (2090, 203), (2760, 195),
    (5260, 155), (604, 203), (618, 205), (743, 208), (873, 195), (1050, 190), (1260, 177), (632, 169),
    (647, 164), (662, 160), (678, 169), (815, 169), (632, 131), (936, 151), (914, 137), (914, 120),
    (1480, 144), (1480, 125), (1120, 122), (1100, 107), (1120, 108), (1100, 104), (2300, 128), (2830, 128),
    (597, 109), (726, 107), (632, 100), (611, 100), (1890, 114), (1980, 100), (1000, 87), (1020, 87),
    (1380, 89), (1320, 81), (2090, 79), (743, 74), (662, 69), (914, 69), (873, 66), (880, 63), (1030, 61),
    (1010, 58), (1180, 64), (1290, 66), (1590, 63), (3640, 72), (2640, 61), (2760, 59), (2890, 63),
    (647, 59), (611, 48), (710, 49), (796, 49), (1210, 52), (1260, 42.5), (1550, 46.6), (1740, 40),
    (1870, 40), (1590, 31.5), (2050, 33.7), (2400, 38.7), (3240, 36.6), (3240, 31), (693, 40), (873, 35),
    (1100, 35), (1070, 31), (1050, 27.4), (1100, 28), (1130, 30), (1170, 28.5), (1190, 25.5), (936, 24),
    (914, 24), (726, 27.4), (726, 25.6), (710, 22.4), (796, 26.8), (604, 20), (618, 20), (640, 20),
    (778, 21), (957, 19.4), (980, 16.9), (957, 14.7), (853, 15.4), (796, 16.9), (662, 16.9), (632, 16.5),
    (597, 18.5), (1820, 22.3), (2350, 23.3), (2960, 24.4), (3170, 22.8), (13400, 22.8), (15900, 14.7),
    (853, 12.2), (914, 11.7), (936, 10.8), (597, 11.4), (1350, 11.4), (1350, 10), (1230, 8.9), (1780, 10.7),
    (2000, 10), (2190, 10), (2240, 12), (2520, 10), (2640, 7.9), (3560, 9.1), (4690, 10), (5260, 10),
    (678, 10), (710, 8.9), (700, 7.9), (611, 7.6), (1590, 6.3), (1850, 5.4), (2140, 4.9), (2190, 4.0),
    (693, 4.0), (647, 2.9), (1320, 2.7), (3640, 3.3), (3560, 2.9), (4380, 2.5),
]


def table(column_lists, pair_lists):
    rows = []
    for cols in column_lists:
        for au, vals in cols:
            rows.extend((au, v) for v in vals)
    for pairs in pair_lists:
        rows.extend(pairs)
    return pd.DataFrame(rows, columns=["au", "val"])


bi_df = table([BI_LOW, BI_MID, BI_HIGH, BI_BAND_EXTRA],
              [BI_SCATTER_UPPER, BI_SCATTER_BAND, BI_FUZZ, BI_SCATTER_LOWER])
as_df = table([AS_LOW, AS_MID, AS_HIGH], [AS_TOP, AS_UPPER_FUZZ, AS_FAR])

vgrid = pd.DataFrame({"au": AU_TICKS, "val": [PPM_TICKS[0]] * len(AU_TICKS), "val2": [PPM_TICKS[-1]] * len(AU_TICKS)})
hgrid = pd.DataFrame({"val": PPM_TICKS, "au": [AU_TICKS[0]] * len(PPM_TICKS), "au2": [AU_TICKS[-1]] * len(PPM_TICKS)})

GRID_COLOR = "#D9D9D9"
LABEL_COLOR = "#505050"


def panel(df, color, title, caption, ydomain, width, height, xlabel_pad, title_pad, title_offset):
    xs = alt.Scale(type="log", domain=[AU_TICKS[0], AU_TICKS[-1]], nice=False)
    ys = alt.Scale(type="log", domain=ydomain, nice=False)
    xax = alt.Axis(values=AU_TICKS, format="~g", title=caption, grid=False, domain=False, ticks=False,
                   tickSize=0, labelPadding=xlabel_pad, labelFont="Lato", labelFontSize=10,
                   labelFontWeight="bold", labelColor=LABEL_COLOR, labelFlush=False, labelOverlap=False,
                   titleFont="Liberation Sans", titleFontSize=15, titleFontWeight="bold",
                   titleFontStyle="italic", titleColor="#111111", titlePadding=title_pad)
    yax = alt.Axis(values=PPM_TICKS, format="~g", title=None, grid=False, domain=False, ticks=False,
                   tickSize=0, labelPadding=11, labelFont="Lato", labelFontSize=10,
                   labelFontWeight="bold", labelColor=LABEL_COLOR, labelFlush=False, labelOverlap=False)
    x = alt.X("au:Q", scale=xs, axis=xax)
    y = alt.Y("val:Q", scale=ys, axis=yax)
    vr = alt.Chart(vgrid).mark_rule(color=GRID_COLOR, strokeWidth=1.3).encode(x=x, y=y, y2="val2:Q")
    hr = alt.Chart(hgrid).mark_rule(color=GRID_COLOR, strokeWidth=1.3).encode(x=x, x2="au2:Q", y=y)
    pts = alt.Chart(df).mark_circle(size=26, color=color, opacity=1).encode(x=x, y=y)
    return alt.layer(vr, hr, pts).properties(
        width=width, height=height,
        title=alt.TitleParams(text=title, font="Lato", fontSize=14, fontWeight="bold",
                              color="#44546A", anchor="middle", offset=title_offset, dx=-19, frame="group"),
    )


left = panel(bi_df, "#4472C4", TITLE_BI, CAPTION_BI, [2.333, 3004], 471, 311, 5, 21, 5.5)
right = panel(as_df, "#ED7D31", TITLE_AS, CAPTION_AS, [2.5, 2500], 479, 311, 8, 19, 1.5)

chart = alt.hconcat(left, right, spacing=92, bounds="flush").properties(
    padding={"left": 0, "top": 2.5, "right": 0, "bottom": 0}
).configure_view(stroke=None)

chart.save("out.html", embed_options={"renderer": "svg", "actions": False})
